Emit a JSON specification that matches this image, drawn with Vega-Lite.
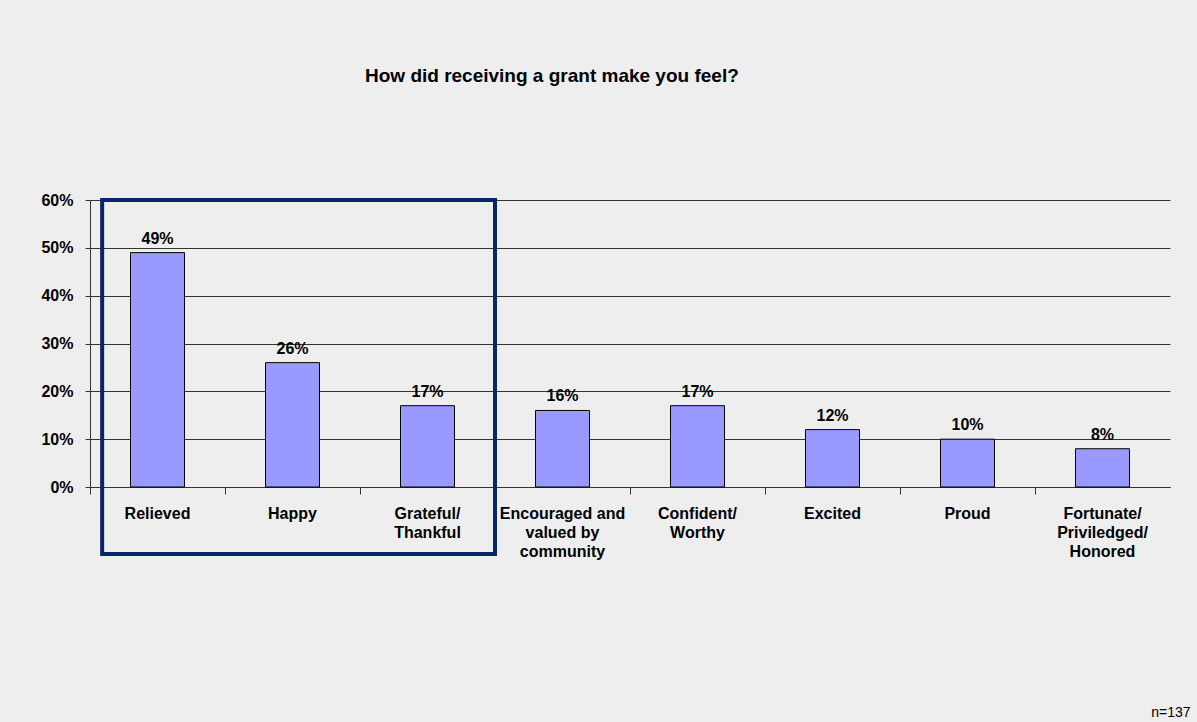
{
  "$schema": "https://vega.github.io/schema/vega-lite/v6.json",
  "width": 1080,
  "height": 287,
  "autosize": {"type": "none"},
  "padding": {"left": 90, "top": 200, "right": 27, "bottom": 235},
  "background": "#eeeeee",
  "title": {
    "text": "How did receiving a grant make you feel?",
    "anchor": "start",
    "frame": "group",
    "dx": 275,
    "offset": 91,
    "baseline": "alphabetic",
    "font": "Liberation Sans",
    "fontSize": 19,
    "fontWeight": "bold",
    "color": "#000000"
  },
  "config": {"view": {"stroke": null}, "font": "Liberation Sans"},
  "datasets": {
    "feelings": [
      {"feeling": "Relieved", "share": 0.49},
      {"feeling": "Happy", "share": 0.26},
      {"feeling": "Grateful/\nThankful", "share": 0.17},
      {"feeling": "Encouraged and\nvalued by\ncommunity", "share": 0.16},
      {"feeling": "Confident/\nWorthy", "share": 0.17},
      {"feeling": "Excited", "share": 0.12},
      {"feeling": "Proud", "share": 0.10},
      {"feeling": "Fortunate/\nPriviledged/\nHonored", "share": 0.08}
    ],
    "highlight": [
      {"from": "Relieved", "to": "Grateful/\nThankful", "top": 0.6, "bottom": -0.14}
    ]
  },
  "layer": [
    {
      "data": {"name": "feelings"},
      "mark": {"type": "bar", "width": {"band": 0.4}, "fill": "#9999ff", "stroke": "#000000", "strokeWidth": 1},
      "encoding": {
        "x": {
          "field": "feeling", "type": "nominal", "sort": null,
          "scale": {"paddingInner": 0, "paddingOuter": 0},
          "axis": {
            "orient": "bottom",
            "labelAngle": 0,
            "ticks": false,
            "tickSize": 0,
            "labelPadding": 18,
            "labelFontSize": 16,
            "labelFontWeight": "bold",
            "labelColor": "#000000",
            "labelLineHeight": 19,
            "labelExpr": "split(datum.label, '\\n')",
            "labelLimit": 200,
            "domain": true,
            "domainColor": "#333333",
            "title": "n=137",
            "titleX": 1100,
            "titleY": 229,
            "titleAlign": "right",
            "titleBaseline": "alphabetic",
            "titleFontSize": 14,
            "titleFontWeight": "normal",
            "titleColor": "#000000"
          }
        },
        "y": {
          "field": "share", "type": "quantitative",
          "scale": {"domain": [0, 0.6], "nice": false},
          "axis": {
            "values": [0, 0.1, 0.2, 0.3, 0.4, 0.5, 0.6],
            "format": ".0%",
            "title": null,
            "grid": true,
            "gridColor": "#333333",
            "gridOpacity": 1,
            "domainColor": "#333333",
            "tickColor": "#333333",
            "tickSize": 5,
            "labelPadding": 12,
            "labelFontSize": 16,
            "labelFontWeight": "bold",
            "labelColor": "#000000"
          }
        }
      }
    },
    {
      "data": {"name": "feelings"},
      "mark": {"type": "text", "baseline": "alphabetic", "dy": -9, "fontSize": 16, "fontWeight": "bold", "color": "#000000"},
      "encoding": {
        "x": {
          "field": "feeling", "type": "nominal", "sort": null,
          "axis": {
            "orient": "bottom",
            "labels": false,
            "domain": false,
            "grid": false,
            "ticks": true,
            "tickSize": 7,
            "tickColor": "#333333",
            "bandPosition": 0,
            "title": null
          }
        },
        "y": {"field": "share", "type": "quantitative"},
        "text": {"field": "share", "type": "quantitative", "format": ".0%"}
      }
    },
    {
      "data": {"name": "highlight"},
      "mark": {"type": "rect", "fill": null, "stroke": "#082567", "strokeWidth": 4},
      "encoding": {
        "x": {"field": "from", "type": "nominal", "sort": null, "bandPosition": 0.09, "axis": null},
        "x2": {"field": "to", "bandPosition": 1},
        "y": {"field": "top", "type": "quantitative"},
        "y2": {"field": "bottom"}
      }
    }
  ],
  "resolve": {"axis": {"x": "independent"}}
}
